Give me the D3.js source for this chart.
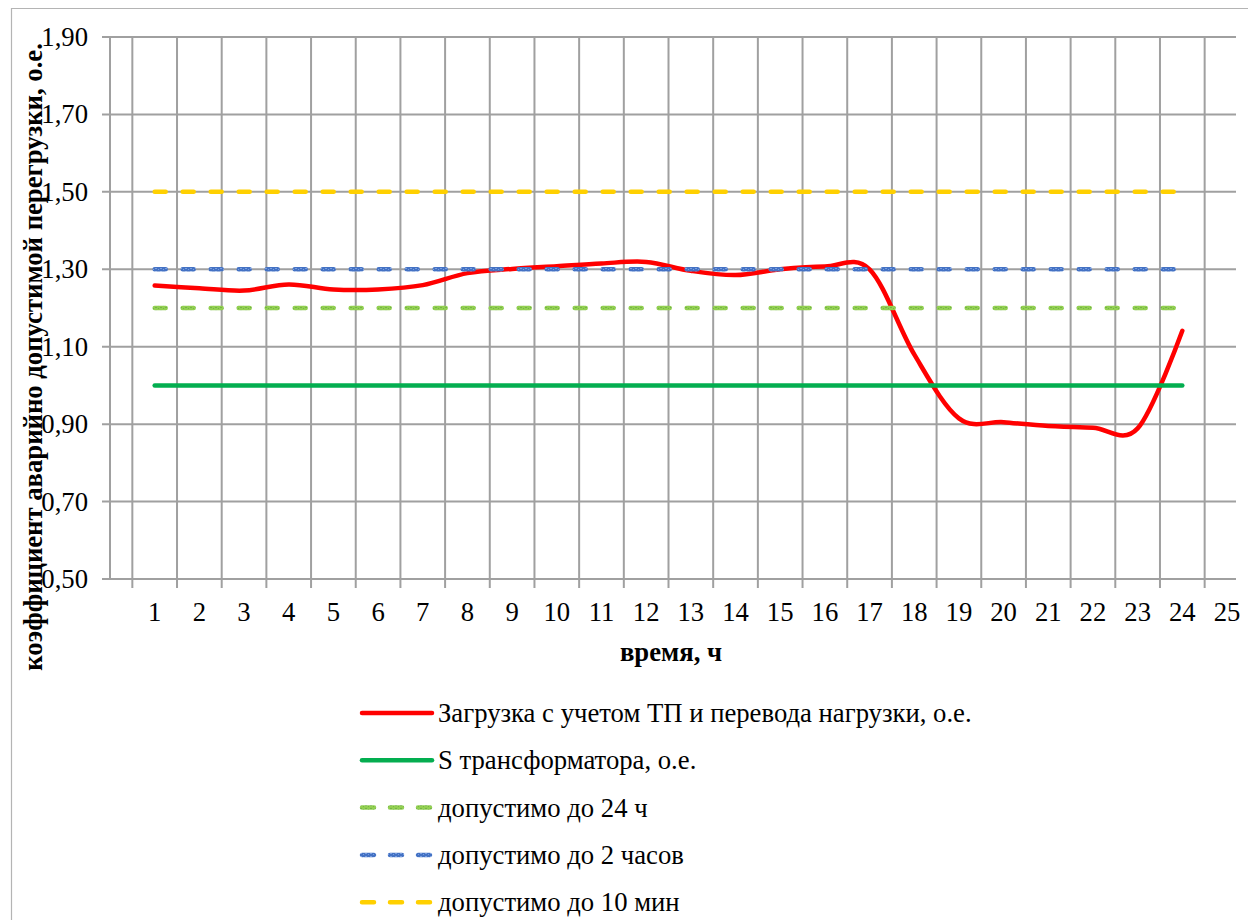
<!DOCTYPE html>
<html>
<head>
<meta charset="utf-8">
<script src="https://cdn.jsdelivr.net/npm/d3@7"></script>
<style>
  html, body { margin: 0; padding: 0; background: #ffffff; }
  svg { display: block; }
</style>
</head>
<body>
<svg id="chart" width="1248" height="920"></svg>
<script>
// Hours of the day (category axis) and tick labels
const hours = [1, 2, 3, 4, 5, 6, 7, 8, 9, 10, 11, 12, 13, 14, 15, 16, 17, 18, 19, 20, 21, 22, 23, 24];
const hourTicks = [1, 2, 3, 4, 5, 6, 7, 8, 9, 10, 11, 12, 13, 14, 15, 16, 17, 18, 19, 20, 21, 22, 23, 24, 25];
const yTicks = [0.5, 0.7, 0.9, 1.1, 1.3, 1.5, 1.7, 1.9];

// Load of the transformer including substation and load transfer, p.u.
const loadValues = [1.258, 1.251, 1.245, 1.261, 1.248, 1.248, 1.259, 1.290, 1.301, 1.308, 1.315, 1.319,
                    1.296, 1.285, 1.300, 1.307, 1.300, 1.080, 0.915, 0.905, 0.895, 0.891, 0.889, 1.141];
// Rated transformer power, p.u.
const ratedValues = [1.00, 1.00, 1.00, 1.00, 1.00, 1.00, 1.00, 1.00, 1.00, 1.00, 1.00, 1.00,
                     1.00, 1.00, 1.00, 1.00, 1.00, 1.00, 1.00, 1.00, 1.00, 1.00, 1.00, 1.00];
// Permissible emergency overload limits
const limit24h = [1.20, 1.20, 1.20, 1.20, 1.20, 1.20, 1.20, 1.20, 1.20, 1.20, 1.20, 1.20,
                  1.20, 1.20, 1.20, 1.20, 1.20, 1.20, 1.20, 1.20, 1.20, 1.20, 1.20, 1.20];
const limit2h = [1.30, 1.30, 1.30, 1.30, 1.30, 1.30, 1.30, 1.30, 1.30, 1.30, 1.30, 1.30,
                 1.30, 1.30, 1.30, 1.30, 1.30, 1.30, 1.30, 1.30, 1.30, 1.30, 1.30, 1.30];
const limit10min = [1.50, 1.50, 1.50, 1.50, 1.50, 1.50, 1.50, 1.50, 1.50, 1.50, 1.50, 1.50,
                    1.50, 1.50, 1.50, 1.50, 1.50, 1.50, 1.50, 1.50, 1.50, 1.50, 1.50, 1.50];

const seriesNames = [
  "Загрузка с учетом ТП и перевода нагрузки, о.е.",
  "S трансформатора, о.е.",
  "допустимо до 24 ч",
  "допустимо до 2 часов",
  "допустимо до 10 мин"
];

const series = [
  { id: "load", name: seriesNames[0], values: loadValues, color: "#ff0000", dash: null, smooth: true },
  { id: "rated", name: seriesNames[1], values: ratedValues, color: "#00b050", dash: null, speck: "#13a34e" },
  { id: "l24", name: seriesNames[2], values: limit24h, color: "#92d050", dash: "11,17", speck: "#74b24a" },
  { id: "l2", name: seriesNames[3], values: limit2h, color: "#4472c4", dash: "11,17", speck: "#7a9fe0" },
  { id: "l10", name: seriesNames[4], values: limit10min, color: "#ffd000", dash: "11,17" }
];

const FONT = "Liberation Serif";
const FS = 26.7;
const svg = d3.select("#chart");
const defs = svg.append("defs");

// Speckled stroke textures for the reference lines
series.filter(s => s.speck).forEach(s => {
  const p = defs.append("pattern")
    .attr("id", "tex-" + s.id)
    .attr("patternUnits", "userSpaceOnUse")
    .attr("width", 5).attr("height", 3);
  p.append("rect").attr("width", 5).attr("height", 3).attr("fill", s.color);
  p.append("rect").attr("x", 0).attr("y", 1).attr("width", 2).attr("height", 1).attr("fill", s.speck);
  p.append("rect").attr("x", 3).attr("y", 2).attr("width", 1).attr("height", 1).attr("fill", s.speck);
});

// Outer chart frame
svg.append("path")
  .attr("d", "M11.5,920 L11.5,8.5 L1248,8.5")
  .attr("fill", "none").attr("stroke", "#b4b4b4").attr("stroke-width", 1.2);

const plotLeft = 110, plotRight = 1236, plotTop = 37, plotBottom = 579;
const x = d3.scaleLinear().domain([0, 25]).range([plotLeft, 1227]);
const y = d3.scaleLinear().domain([0.5, 1.9]).range([plotBottom, plotTop]);

const gridColor = "#a0a0a0";

// Horizontal gridlines with outward ticks
svg.append("g").selectAll("line").data(yTicks).join("line")
  .attr("x1", plotLeft - 8).attr("x2", plotRight)
  .attr("y1", d => y(d)).attr("y2", d => y(d))
  .attr("stroke", gridColor).attr("stroke-width", 2);

// Vertical gridlines between categories, extended below as tick marks
const catEdges = hourTicks.map(h => h - 0.5);
svg.append("g").selectAll("line").data(catEdges).join("line")
  .attr("x1", d => x(d)).attr("x2", d => x(d))
  .attr("y1", plotTop).attr("y2", plotBottom + 9)
  .attr("stroke", gridColor).attr("stroke-width", 2);

// Value axis line
svg.append("line")
  .attr("x1", x(0)).attr("x2", x(0)).attr("y1", plotTop).attr("y2", plotBottom)
  .attr("stroke", gridColor).attr("stroke-width", 2);

// Y tick labels
const fmt = v => d3.format(".2f")(v).replace(".", ",");
svg.append("g").selectAll("text").data(yTicks).join("text")
  .attr("x", 88).attr("y", d => y(d))
  .attr("text-anchor", "end").attr("dominant-baseline", "central")
  .attr("font-family", FONT).attr("font-size", FS)
  .text(fmt);

// X tick labels
svg.append("g").selectAll("text").data(hourTicks).join("text")
  .attr("x", d => x(d)).attr("y", 612)
  .attr("text-anchor", "middle").attr("dominant-baseline", "central")
  .attr("font-family", FONT).attr("font-size", FS)
  .text(d => d);

// Axis titles
svg.append("text")
  .attr("x", 671).attr("y", 652)
  .attr("text-anchor", "middle").attr("dominant-baseline", "central")
  .attr("font-family", FONT).attr("font-size", FS).attr("font-weight", "bold")
  .text("время, ч");

svg.append("text")
  .attr("transform", "translate(33,357) rotate(-90)")
  .attr("text-anchor", "middle").attr("dominant-baseline", "central")
  .attr("font-family", FONT).attr("font-size", FS).attr("font-weight", "bold")
  .text("коэффициент аварийно допустимой перегрузки, о.е.");

// Series lines
const smoothLine = d3.line().x((d, i) => x(hours[i])).y(d => y(d)).curve(d3.curveCardinal.tension(0));
const straightLine = d3.line().x((d, i) => x(hours[i])).y(d => y(d));
const strokeOf = s => s.speck ? "url(#tex-" + s.id + ")" : s.color;

series.forEach(s => {
  const p = svg.append("path")
    .attr("d", (s.smooth ? smoothLine : straightLine)(s.values))
    .attr("fill", "none")
    .attr("stroke", strokeOf(s))
    .attr("stroke-width", 4.5)
    .attr("stroke-linecap", "round")
    .attr("stroke-linejoin", "round");
  if (s.dash) p.attr("stroke-dasharray", s.dash);
});

// Legend
const legendTop = 713, legendStep = 47.3;
const lg = svg.append("g");
series.forEach((s, i) => {
  const cy = legendTop + i * legendStep;
  const l = lg.append("line")
    .attr("x1", 362).attr("x2", 432).attr("y1", cy).attr("y2", cy)
    .attr("stroke", strokeOf(s)).attr("stroke-width", 4.5)
    .attr("stroke-linecap", "round");
  if (s.dash) l.attr("stroke-dasharray", "12,16");
  lg.append("text")
    .attr("x", 438).attr("y", cy)
    .attr("dominant-baseline", "central")
    .attr("font-family", FONT).attr("font-size", FS)
    .text(s.name);
});
</script>
</body>
</html>
